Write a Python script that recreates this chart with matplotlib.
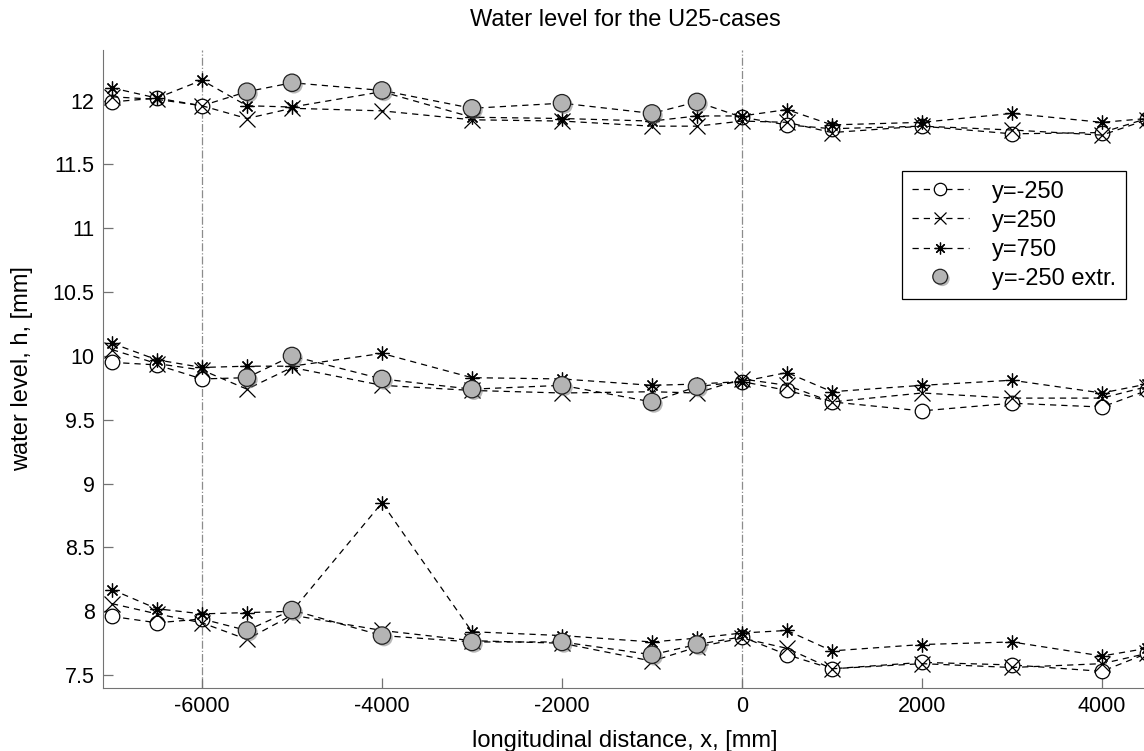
import matplotlib
matplotlib.use("Agg")
import matplotlib.pyplot as plt
import matplotlib.patheffects as pe
import numpy as np

plt.rcParams['font.family'] = ['Liberation Sans', 'DejaVu Sans']

# longitudinal positions, [mm]
x = [-7000, -6500, -6000, -5500, -5000, -4000, -3000, -2000, -1000, -500,
     0, 500, 1000, 2000, 3000, 4000, 4500]
# positions where the y=-250 value is extrapolated
x_extr = [-5500, -5000, -4000, -3000, -2000, -1000, -500]

# three cases (upper, middle, lower), each with three transverse positions
h_m250 = [
    [11.99, 12.02, 11.96, 12.07, 12.14, 12.08, 11.94, 11.98, 11.90, 11.99,
     11.87, 11.81, 11.78, 11.80, 11.74, 11.75, 11.86],
    [9.95, 9.93, 9.82, 9.83, 10.00, 9.82, 9.74, 9.77, 9.64, 9.76,
     9.80, 9.73, 9.64, 9.57, 9.63, 9.60, 9.73],
    [7.96, 7.91, 7.94, 7.85, 8.01, 7.81, 7.76, 7.76, 7.66, 7.74,
     7.80, 7.66, 7.55, 7.60, 7.58, 7.53, 7.67],
]
h_250 = [
    [12.03, 12.01, 11.96, 11.86, 11.94, 11.92, 11.85, 11.84, 11.80, 11.80,
     11.84, 11.83, 11.75, 11.80, 11.77, 11.73, 11.85],
    [10.05, 9.94, 9.89, 9.74, 9.91, 9.77, 9.73, 9.71, 9.72, 9.71,
     9.82, 9.77, 9.64, 9.71, 9.67, 9.67, 9.76],
    [8.06, 7.98, 7.91, 7.78, 7.97, 7.85, 7.77, 7.75, 7.61, 7.72,
     7.79, 7.71, 7.55, 7.59, 7.56, 7.59, 7.67],
]
h_750 = [
    [12.10, 12.02, 12.16, 11.96, 11.95, 12.07, 11.87, 11.86, 11.84, 11.88,
     11.88, 11.93, 11.81, 11.83, 11.90, 11.83, 11.86],
    [10.10, 9.97, 9.91, 9.92, 9.92, 10.02, 9.83, 9.82, 9.77, 9.78,
     9.80, 9.87, 9.72, 9.77, 9.81, 9.71, 9.78],
    [8.17, 8.02, 7.98, 7.99, 8.00, 8.85, 7.84, 7.81, 7.76, 7.79,
     7.83, 7.85, 7.69, 7.74, 7.76, 7.65, 7.71],
]

yticks = [7.5, 8, 8.5, 9, 9.5, 10, 10.5, 11, 11.5, 12]
ytick_labels = ['7.5', '8', '8.5', '9', '9.5', '10', '10.5', '11', '11.5', '12']
xticks = [-6000, -4000, -2000, 0, 2000, 4000]

fig = plt.figure(figsize=(11.44, 7.51), dpi=100)
ax = fig.add_axes([0.090, 0.084, 0.9126, 0.850])

# dash-dot reference lines
for xv in [-6000, 0]:
    ax.axvline(xv, color='0.55', lw=0.9, ls='-.', zorder=1)

dash = (0, (5, 4))
lw = 0.9
x_arr = np.array(x)
meas = [i for i, xv in enumerate(x) if xv not in x_extr]
extr = [i for i, xv in enumerate(x) if xv in x_extr]

shadow = [pe.SimplePatchShadow(offset=(1.5, -1.5), shadow_rgbFace='0.45', alpha=0.5), pe.Normal()]

for k in range(3):
    l1, = ax.plot(x, h_m250[k], color='k', lw=lw, ls=dash, marker='o', ms=10.5,
                  mfc='white', mec='k', mew=0.9, markevery=meas, zorder=3)
    l2, = ax.plot(x, h_250[k], color='k', lw=lw, ls=dash, marker='x', ms=11,
                  mew=0.9, zorder=3)
    l3, = ax.plot(x, h_750[k], color='k', lw=lw, ls=dash, marker=(8, 2, 0),
                  ms=10, mew=0.9, zorder=3)
    yv = np.array(h_m250[k])[extr]
    l4, = ax.plot(x_arr[extr], yv, ls='none', marker='o', ms=12.5,
                  mfc='#b4b4b4', mec='#222222', mew=0.9, zorder=4,
                  path_effects=shadow)

ax.set_xlim(-7100, 4500)
ax.set_ylim(7.4, 12.4)
ax.set_xticks(xticks)
ax.set_xticklabels([str(v) for v in xticks])
ax.set_yticks(yticks)
ax.set_yticklabels(ytick_labels)
ax.tick_params(direction='in', length=7, width=0.9, color='0.45',
               labelsize=15.5, labelcolor='k', pad=6)

ax.spines['right'].set_color('none')
ax.spines['top'].set_color('none')
ax.spines['left'].set_color('0.45')
ax.spines['bottom'].set_color('0.45')

ax.set_title('Water level for the U25-cases', fontsize=17, pad=17)
ax.set_xlabel('longitudinal distance, x, [mm]', fontsize=17, labelpad=9)
ax.set_ylabel('water level, h, [mm]', fontsize=17, labelpad=14)

leg = ax.legend([l1, l2, l3, l4], ['y=-250', 'y=250', 'y=750', 'y=-250 extr.'],
                loc='upper right', bbox_to_anchor=(0.984, 0.772),
                bbox_transform=fig.transFigure, fontsize=17, fancybox=False,
                framealpha=1, edgecolor='k', handlelength=2.4,
                handletextpad=1.0, borderpad=0.4, labelspacing=0.3,
                borderaxespad=0, markerscale=0.85)
leg.get_frame().set_linewidth(0.9)

fig.savefig('out.png', dpi=100)
